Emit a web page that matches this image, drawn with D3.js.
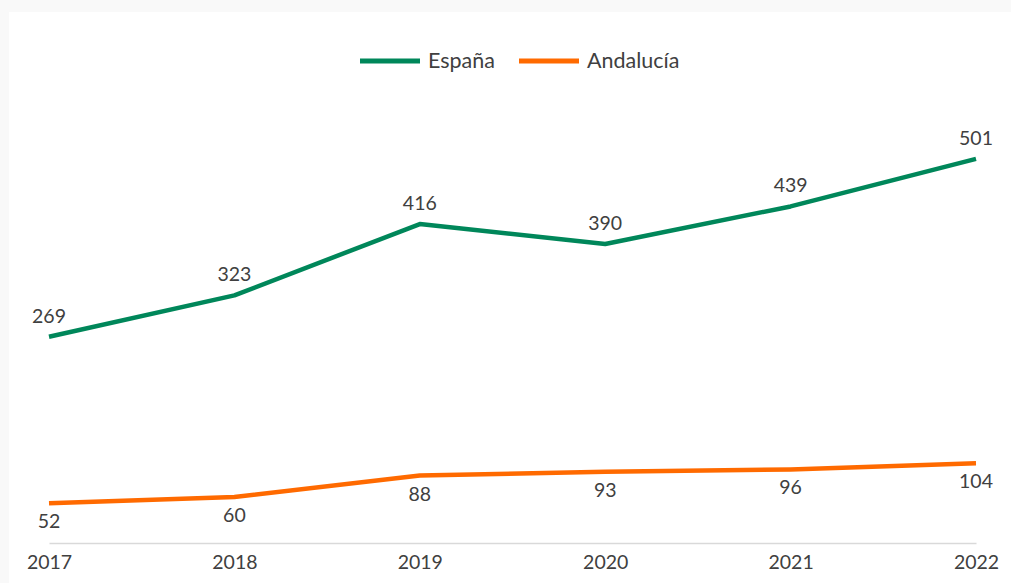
<!DOCTYPE html>
<html>
<head>
<meta charset="utf-8">
<script src="https://cdn.jsdelivr.net/npm/d3@7"></script>
<style>
  body { margin: 0; background: #f9f9f9; }
  svg { display: block; }
</style>
</head>
<body>
<script>
var w = 1011;
var h = 583;

var years = ["2017", "2018", "2019", "2020", "2021", "2022"];
var espana = [269, 323, 416, 390, 439, 501];
var andalucia = [52, 60, 88, 93, 96, 104];
var seriesNames = ["España", "Andalucía"];
var seriesColors = ["#00875a", "#ff6a00"];

var font = "Lato, 'Open Sans', sans-serif";

var svg = d3.select("body")
    .append("svg")
    .attr("width", w)
    .attr("height", h);

// light gray page, white chart area
svg.append("rect")
    .attr("x", 0).attr("y", 0)
    .attr("width", w).attr("height", h)
    .attr("fill", "#f9f9f9");
svg.append("rect")
    .attr("x", 9).attr("y", 12)
    .attr("width", w - 9).attr("height", h - 12)
    .attr("fill", "#ffffff");

var x = d3.scalePoint()
    .domain(years)
    .range([49, 976]);

var y = d3.scaleLinear()
    .domain([0, 600])
    .range([543, 83]);

// category axis
var xAxis = svg.append("g")
    .attr("transform", "translate(0,543)")
    .call(d3.axisBottom(x).tickSize(0).tickPadding(12));
xAxis.select(".domain").attr("stroke", "#d9d9d9").attr("stroke-width", 1.5);
xAxis.selectAll("text")
    .attr("font-size", 19.5)
    .attr("font-family", font)
    .attr("fill", "#404040");

var line = d3.line()
    .x(function(d, i) { return x(years[i]); })
    .y(function(d) { return y(d); });

var data = [espana, andalucia];

data.forEach(function(vals, k) {
    svg.append("path")
        .datum(vals)
        .attr("d", line)
        .attr("fill", "none")
        .attr("stroke", seriesColors[k])
        .attr("stroke-width", 4.5)
        .attr("stroke-linejoin", "round");

    svg.selectAll(".lbl" + k)
        .data(vals)
        .enter()
        .append("text")
        .attr("x", function(d, i) { return x(years[i]); })
        .attr("y", function(d) { return k == 0 ? y(d) - 14 : y(d) + 25; })
        .attr("text-anchor", "middle")
        .attr("font-size", 19.5)
        .attr("font-family", font)
        .attr("fill", "#404040")
        .text(function(d) { return d; });
});

// legend
var legendX = [360, 519];
seriesNames.forEach(function(name, k) {
    svg.append("line")
        .attr("x1", legendX[k]).attr("x2", legendX[k] + 60)
        .attr("y1", 61).attr("y2", 61)
        .attr("stroke", seriesColors[k])
        .attr("stroke-width", 5);
    svg.append("text")
        .attr("x", legendX[k] + 68)
        .attr("y", 68)
        .attr("font-size", 21.5)
        .attr("font-family", font)
        .attr("fill", "#404040")
        .text(name);
});
</script>
</body>
</html>
